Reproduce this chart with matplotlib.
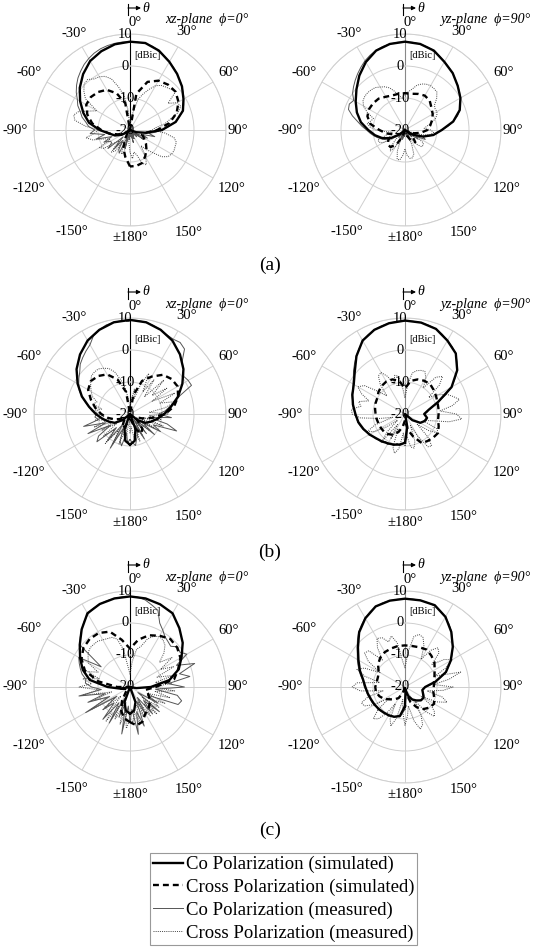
import numpy as np
import matplotlib
matplotlib.use("Agg")
import matplotlib.pyplot as plt
from matplotlib import transforms as mtransforms
from matplotlib.lines import Line2D

plt.rcParams['font.family'] = ['Liberation Serif', 'DejaVu Serif']

# angles in degrees (0 = boresight, clockwise positive)
ang10 = np.arange(-180, 181, 10)
ang5 = np.arange(-180, 181, 5)

# ---------------- (a) xz-plane ----------------
a_xz_co_sim = [-20, -20, -20, -20, -20, -19, -17, -15, -13.5,
               -10.5, -7, -4.5, -2, 0.5, 2.8, 4.9, 6.2, 7.2,
               7.6, 7.6, 6.4, 4.6, 2.9, 1.2, -0.7, -2.4, -5.5,
               -10, -15, -18, -20, -20, -20, -20, -20, -20,
               -20]
a_xz_cx_sim = [-8.6, -11.5, -14, -17, -19, -20, -18, -16, -13.5,
               -11, -8, -5.8, -4.2, -4, -4.5, -5.5, -7.8, -11.5,
               -20, -8.5, -4, -2.2, -1.5, -1.4, -2.5, -4.5, -7.5,
               -11.5, -15, -16, -15, -13.5, -12, -10.5, -9, -8.6,
               -8.6]
a_xz_co_meas = [-20, -17, -20, -14, -18, -12, -13, -16, -12, -17, -11, -13,
                -13, -11, -14, -9, -12, -7.5, -9, -7, -6, -4.5, -3.5, -2,
                -1, 0.5, 1.8, 3, 4, 5, 5.8, 6.5, 7, 7.3, 7.5, 7.6,
                7.6, 7.6, 7.5, 7.1, 6.4, 5.5, 4.6, 3.8, 2.9, 2, 1.2, 0.3,
                -0.7, -1.5, -2.4, -4, -5.5, -8, -10, -12, -14, -12, -16, -14,
                -18, -15, -19, -17, -20, -18, -20, -17, -20, -16, -20, -18,
                -20]
a_xz_cx_meas = [-13, -16, -18, -13, -12, -16, -16, -12, -11, -15, -14, -10,
                -9, -13, -12, -8, -6, -9, -10, -6, -2.5, -1.8, -3, -6,
                -8, -3, -1.2, 0.3, 0.6, -0.5, -0.8, -1.5, -3, -6, -9, -14,
                -20, -17, -14, -10, -8, -6, -4, -3, -2.5, -2, -1.5, -5.5,
                -2.9, -2.5, -4, -7, -9, -12, -13, -9, -6, -5, -5, -4.8,
                -5, -5.5, -7, -10, -12, -14, -10, -8, -9, -12, -13, -11,
                -13]

# ---------------- (a) yz-plane ----------------
a_yz_co_sim = [-20, -20, -20, -20, -20, -18, -15, -12.5, -10.5,
               -8.5, -6, -4, -2.2, -0.2, 2.2, 4.5, 6.4, 7.3,
               7.6, 7.3, 6.4, 4.6, 3.2, 1.5, 0, -1.8, -4.7,
               -8.5, -11, -14, -17, -19.5, -20, -20, -20, -20,
               -20]
a_yz_cx_sim = [-20, -20, -18, -15, -13, -13, -14, -16, -14,
               -12, -9, -7.5, -7, -7, -7.2, -8, -8.5, -8.5,
               -8.5, -8.5, -8, -7.6, -8, -9.2, -10, -11, -12,
               -13, -15, -17, -19, -17, -15, -16, -18, -20,
               -20]
a_yz_co_meas = [-20, -18, -20, -17, -19, -16, -18, -20, -17, -19, -17, -16,
                -14.5, -13, -12, -11, -10, -9, -8, -6.5, -5, -3, -1.2, -0.8,
                -1.5, 0, 1, 2, 3, 4, 5, 5.8, 6.5, 7, 7.3, 7.5,
                7.6, 7.5, 7.3, 6.9, 6.4, 5.5, 4.6, 3.9, 3.2, 2.3, 1.5, 0.8,
                0, -0.9, -1.8, -3, -4.7, -6.5, -8.5, -10, -11, -12.5, -14, -13,
                -16, -15, -18, -17, -20, -18, -20, -17, -20, -18, -20, -19,
                -20]
a_yz_cx_meas = [-14, -12, -10.5, -10.5, -13, -17, -14, -12, -13, -16, -20, -15,
                -12, -11, -11, -14, -16, -14, -11, -9, -8, -9, -9.5, -7,
                -5, -4, -3.6, -3.5, -3.6, -3.8, -4.5, -5.1, -6, -7.5, -9, -10,
                -9, -8, -7, -5.5, -4.7, -4.2, -4, -4.2, -4.5, -6, -8, -8.5,
                -8.5, -9, -10, -11.5, -13, -14, -12, -11, -12, -14, -17, -20,
                -16, -13, -12.6, -12.6, -14, -17, -20, -15, -12, -11, -11, -12,
                -14]

# ---------------- (b) xz-plane ----------------
b_xz_co_sim = [-10.4, -11.5, -15, -20, -20, -17, -14.5, -13, -11.3,
               -9.3, -7, -4, -1.1, 1.8, 4.3, 6.5, 8, 9.1,
               9.4, 9.1, 8, 6.5, 4.3, 1.8, -1.1, -4, -7,
               -9.3, -11.3, -13, -14.5, -17, -20, -20, -15, -11.5,
               -10.4]
b_xz_cx_sim = [-20, -18, -16, -15, -17, -18, -17, -15, -13,
               -11, -9, -7, -4.9, -4, -4.5, -5.7, -8.5, -13,
               -20, -14, -9, -6.5, -4, -3, -2.8, -4, -6,
               -9, -13, -16, -18, -17, -14, -13, -15, -18,
               -20]
b_xz_co_meas = [-12, -11, -14, -9.7, -11, -15, -7.7, -16, -9, -14, -6.5, -8,
                -13, -5.5, -12, -5, -10, -9, -9.5, -8, -7, -5.5, -4, -2.5,
                -1.5, -0.5, 0.5, 2, 3, 4, 5, 7, 8, 8.8, 9.1, 9.3,
                9.4, 9.3, 9.1, 8.6, 8, 7.3, 7, 7.3, 6.5, 3, 1.8, 0.5,
                1, 1.2, -3.5, -5.5, -7.5, -9, -11, -7, -14, -8, -4.5, -12,
                -9, -15, -10, -17, -12, -18, -11, -16, -13, -12, -10, -11,
                -12]
b_xz_cx_meas = [-14, -18, -12, -16, -10, -15, -9, -14, -8, -13, -9, -15,
                -10, -14, -8, -13, -9, -12, -10, -9, -11, -8, -9, -7,
                -6, -5, -4, -3, -2.8, -2.8, -3.5, -4.3, -6, -9, -12, -16,
                -18, -16, -12, -15, -10, -6, -12, -7, -13, -5, -11, -6,
                -12, -4.5, -10, -5, -9, -14, -8, -14, -10, -15, -9, -16,
                -11, -17, -12, -16, -13, -17, -12, -16, -11, -14, -12, -16,
                -14]

# ---------------- (b) yz-plane ----------------
b_yz_co_sim = [-11, -10.3, -9.8, -9.4, -8.8, -8.2, -7.2, -6.2, -5.2,
               -4.5, -3.5, -2.5, -1.5, 0.5, 3.6, 6.5, 8, 8.8,
               9.2, 9, 8.3, 6.5, 4.7, 1.3, -3.2, -9, -12.5,
               -14, -13, -13.5, -14.5, -17, -20, -20, -20, -16,
               -11]
b_yz_cx_sim = [-18, -16, -14, -12.5, -11.8, -11.4, -11.3, -11.2, -11,
               -10.8, -10.5, -10.2, -10, -9.2, -8.6, -8.3, -8.5, -9.5,
               -12, -9.5, -8.5, -8, -7.8, -8.3, -8.8, -9.2, -9.4,
               -9.5, -9.5, -8.8, -8.1, -8.5, -9, -9.5, -12.5, -15,
               -18]
b_yz_co_meas = [-11, -10.5, -10, -10.5, -9.5, -9.8, -9, -9.5, -8.5, -8.5, -8, -7.8,
                -7, -6.8, -6, -5.5, -5, -4.8, -4.3, -4, -3.3, -3, -2.3, -2,
                -1.3, -0.3, 1, 2.3, 3.7, 5, 6.3, 7.3, 8, 8.5, 8.8, 9.1,
                9.2, 9.1, 9, 8.7, 8.3, 7.5, 6.5, 5.7, 4.7, 3, 1.3, -1,
                -3.2, -6, -9, -11, -12.5, -13, -14, -13.5, -13, -13, -13.5, -14,
                -14.5, -16, -17, -19, -20, -20, -20, -20, -20, -18, -16, -13,
                -11]
b_yz_cx_meas = [-10, -14, -9, -7.3, -9, -15, -11, -16, -9, -12, -17, -13,
                -9, -7, -10, -16, -12, -6, -3.5, -3.2, -6, -5, -8, -5,
                -3, -4.5, -9, -12, -8, -5.5, -5, -7, -10, -7.5, -8, -12,
                -15, -11, -7, -6, -5.5, -5.3, -7, -10, -5, -3.4, -6, -11,
                -8, -5.5, -4, -2.4, -5, -9, -4, -2.2, -6, -12, -14, -9,
                -8, -11, -15, -10, -7, -7.5, -12, -16, -11, -9, -9.5, -13,
                -10]

# ---------------- (c) xz-plane ----------------
c_xz_co_sim = [-11.7, -12.5, -15, -20, -20, -20, -20, -20, -17,
               -13, -7.2, -4.3, -2, 0.5, 3.5, 6.6, 7.6, 8.1,
               8.3, 8.1, 7.5, 6.6, 4, 1.5, -1.4, -3.8, -7.5,
               -13.5, -18, -20, -20, -20, -20, -20, -15, -12.5,
               -11.7]
c_xz_cx_sim = [-9, -10, -12, -15, -18, -20, -20, -20, -20,
               -16, -10, -5, -2.5, -1, -0.4, -0.5, -1.6, -5,
               -8, -5, -2.8, -1.5, -0.4, -0.8, -1.8, -4, -6,
               -12, -15, -14, -13, -12, -11, -10.4, -8.5, -7.8,
               -9]
c_xz_co_meas = [-9, -14, -5.1, -15, -10, -16, -7, -14, -6.8, -13, -9, -15,
                -4, -13, -6, -12, -3.8, -11, -8, -6, -6, -4.5, -3.5, -2.5,
                -1.5, -9, 0.5, 2, 3.5, 5, 6.3, 7.1, 7.6, 7.9, 8.1, 8.3,
                8.3, 8.2, 7.6, 6.5, 5.5, 2, 0.5, -0.9, -1.5, -2, -0.5, -1,
                0.5, -4, 1.5, -4, -1, -8, -3, -12, -5, -3.3, -4, -14,
                -10, -17, -8, -14, -9, -16, -10, -15, -7, -12, -5, -13,
                -9]
c_xz_cx_meas = [-10, -7, -12, -8, -14, -9, -13, -7, -12, -16, -9, -14,
                -6, -12, -8, -14, -5, -10, -4, -8, -5, -10, -6, -9,
                -5, -4, -3, -2.5, -2.5, -2.5, -3, -3.3, -3.5, -4.5, -8, -14,
                -16, -12, -8, -6.9, -4, -2.5, -1.8, -2, -3, -5, -8, -4,
                -9, -5, -11, -6, -12, -7, -13, -6, -12, -7, -14, -8,
                -12, -9, -15, -8, -13, -9, -15, -10, -14, -8, -12, -9,
                -10]

# ---------------- (c) yz-plane ----------------
c_yz_co_sim = [-14, -10.8, -10.1, -9.8, -9.6, -9.3, -9, -8.7, -8.2,
               -7.6, -6.7, -5, -3.2, -0.8, 2.3, 4.8, 6.8, 7.4,
               7.6, 7.5, 7.2, 5.3, 2.5, -0.5, -3.5, -6.4, -10.3,
               -13.7, -14.5, -14, -13.3, -13.5, -14.5, -15.5, -17, -19,
               -14]
c_yz_cx_sim = [-20, -20, -18, -16, -15, -14, -12.5, -11.5, -10.8,
               -10.7, -11, -11, -10.5, -9, -8, -7.4, -7.2, -7,
               -7, -7, -6.8, -6.5, -7.2, -8, -9.3, -10.2, -10.8,
               -11, -11, -10.3, -9.5, -10, -11, -12.7, -15, -18,
               -20]
c_yz_co_meas = [-13, -12, -10.5, -10.5, -10, -10, -9.5, -9.8, -9.5, -9.3, -9, -9.2,
                -8.8, -8.6, -8.5, -8.2, -8, -7.8, -7.3, -7, -6.5, -5.6, -4.7, -3.8,
                -2.8, -1.8, -0.5, 1, 2.5, 3.7, 4.9, 5.9, 6.7, 7.2, 7.4, 7.5,
                7.6, 7.6, 7.5, 7.3, 7, 6.2, 5.2, 4, 2.6, 1, -0.5, -2,
                -3.4, -5, -6.4, -8.5, -10.3, -12, -13.5, -14.3, -14.5, -14.2, -13.8, -13.4,
                -13.3, -13.4, -13.6, -14, -14.6, -15, -15.6, -16.3, -17, -18, -19, -17,
                -13]
c_yz_cx_meas = [-8, -12, -16, -10, -7, -9, -14, -10, -7, -6, -9, -14,
                -9, -6, -5.5, -8, -13, -6, -3.5, -5, -12, -7, -4, -6,
                -11, -6, -3.5, -4, -9, -5, -2.5, -3, -5, -3.5, -6, -12,
                -14, -9, -4, -3, -3.5, -6, -10, -6, -4, -5, -9, -5,
                -3, -6, -10, -2, -6, -11, -5, -8, -13, -8, -6, -9,
                -14, -10, -8, -7, -10, -15, -10, -7, -6, -9, -14, -11,
                -8]

panels = [
    ("xz-plane  \u03d5=0\u00b0", a_xz_co_sim, a_xz_cx_sim, a_xz_co_meas, a_xz_cx_meas),
    ("yz-plane  \u03d5=90\u00b0", a_yz_co_sim, a_yz_cx_sim, a_yz_co_meas, a_yz_cx_meas),
    ("xz-plane  \u03d5=0\u00b0", b_xz_co_sim, b_xz_cx_sim, b_xz_co_meas, b_xz_cx_meas),
    ("yz-plane  \u03d5=90\u00b0", b_yz_co_sim, b_yz_cx_sim, b_yz_co_meas, b_yz_cx_meas),
    ("xz-plane  \u03d5=0\u00b0", c_xz_co_sim, c_xz_cx_sim, c_xz_co_meas, c_xz_cx_meas),
    ("yz-plane  \u03d5=90\u00b0", c_yz_co_sim, c_yz_cx_sim, c_yz_co_meas, c_yz_cx_meas),
]
sub_labels = ["(a)", "(b)", "(c)"]
r_ticks = [10, 0, -10, -20]
theta_ticks = np.arange(0, 360, 30)
theta_labels = ["0\u00b0", "30\u00b0", "60\u00b0", "90\u00b0", "120\u00b0", "150\u00b0",
                "\u00b1180\u00b0", "-150\u00b0", "-120\u00b0", "-90\u00b0", "-60\u00b0", "-30\u00b0"]
label_rpx = [108, 114, 114, 108, 117, 118, 108, 117, 117, 115, 116, 111]

W, H = 543, 950
R = 96
centers = [(130, 130), (405, 130), (130, 414), (405, 414), (130, 687), (405, 687)]
sub_y = [265, 552, 830]

fig = plt.figure(figsize=(W / 100, H / 100), dpi=100)

grid_c = '#cfcfcf'
st_co_sim = dict(color='black', lw=1.7, solid_joinstyle='round')
st_cx_sim = dict(color='black', lw=1.7, dashes=(2.5, 1.7))
st_co_meas = dict(color='#555555', lw=0.7)
st_cx_meas = dict(color='#444444', lw=0.7, ls=(0, (1, 1.2)))


def px2db(p):
    return -20 + p * 30.0 / R


for i, (title, co_sim, cx_sim, co_meas, cx_meas) in enumerate(panels):
    cx, cy = centers[i]
    ax = fig.add_axes([(cx - R) / W, 1 - (cy + R) / H, 2 * R / W, 2 * R / H], projection='polar')
    ax.set_theta_zero_location('N')
    ax.set_theta_direction(-1)
    ax.set_ylim(-20, 10)
    ax.set_yticks([-10, 0, 10])
    ax.set_yticklabels([])
    ax.set_xticks(np.deg2rad(theta_ticks))
    ax.set_xticklabels([])
    ax.grid(True, color=grid_c, lw=0.7)
    ax.spines['polar'].set_color(grid_c)
    ax.spines['polar'].set_linewidth(0.7)
    ax.xaxis.get_gridlines()[0].set_color('black' if i % 2 == 0 else '#888888')
    ax.xaxis.get_gridlines()[0].set_linewidth(0.8)

    ax.plot(np.deg2rad(ang5), np.clip(cx_meas, -20, 10), **st_cx_meas)
    ax.plot(np.deg2rad(ang5), np.clip(co_meas, -20, 10), **st_co_meas)
    ax.plot(np.deg2rad(ang10), np.clip(cx_sim, -20, 10), **st_cx_sim)
    ax.plot(np.deg2rad(ang10), np.clip(co_sim, -20, 10), **st_co_sim)

    # radial labels along 0 deg
    tr = mtransforms.offset_copy(ax.transData, fig=fig, x=-5, y=0, units='dots')
    for v in r_ticks:
        ax.text(0, v, str(v), transform=tr, ha='center', va='center', fontsize=10.5, zorder=5)
    tr2 = mtransforms.offset_copy(ax.transData, fig=fig, x=17, y=0, units='dots')
    ax.text(0, px2db(75), "[dBic]", transform=tr2, ha='center', va='center', fontsize=7.5, zorder=5)

    # angle labels
    for t, lab, rp in zip(theta_ticks, theta_labels, label_rpx):
        dx = 5 if t == 0 else 0
        trl = mtransforms.offset_copy(ax.transData, fig=fig, x=dx, y=0, units='dots')
        ax.text(np.deg2rad(t), px2db(rp), lab, transform=trl, ha='center', va='center',
                fontsize=10.5, clip_on=False)

    # theta arrow marker and plane title
    fig.add_artist(Line2D([(cx - 2) / W] * 2, [1 - (cy - 126) / H, 1 - (cy - 115) / H],
                          color='black', lw=0.8))
    ax.annotate("", xy=(cx + 11, H - (cy - 122)), xytext=(cx - 2, H - (cy - 122)),
                xycoords='figure pixels', textcoords='figure pixels',
                arrowprops=dict(arrowstyle='-|>', color='black', lw=0.8, mutation_scale=6,
                                shrinkA=0, shrinkB=0))
    fig.text((cx + 16) / W, 1 - (cy - 122) / H, "\u03b8", style='italic', fontsize=10,
             ha='center', va='center')
    fig.text((cx + 35) / W, 1 - (cy - 110) / H, title, style='italic', fontsize=10,
             ha='left', va='center')

for k, lab in enumerate(sub_labels):
    fig.text(270 / W, 1 - sub_y[k] / H, lab, ha='center', va='center', fontsize=14)

handles = [Line2D([], [], **st_co_sim), Line2D([], [], **st_cx_sim),
           Line2D([], [], **st_co_meas), Line2D([], [], **st_cx_meas)]
labels = ["Co Polarization (simulated)", "Cross Polarization (simulated)",
          "Co Polarization (measured)", "Cross Polarization (measured)"]
leg = fig.legend(handles, labels, loc='upper left', bbox_to_anchor=(150 / W, 1 - 853 / H),
                 fontsize=13.5, frameon=True, fancybox=False, edgecolor='#999999', framealpha=1,
                 borderpad=0.15, handlelength=1.6, handletextpad=0.15, labelspacing=0.3,
                 borderaxespad=0)
leg.get_frame().set_linewidth(0.8)

fig.savefig("out.png", dpi=100)
